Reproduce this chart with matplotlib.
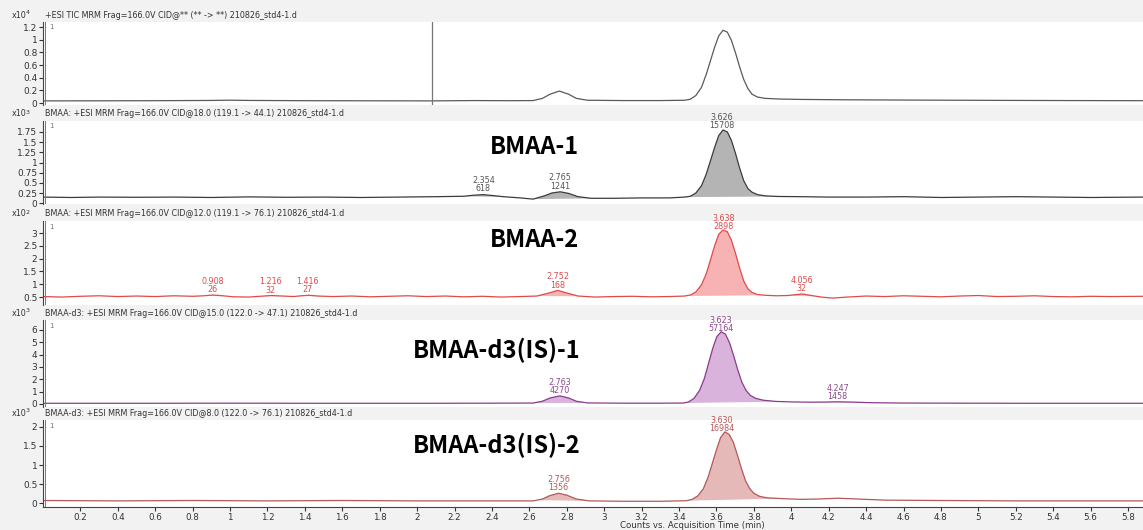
import numpy as np
import matplotlib
matplotlib.use("Agg")
import matplotlib.pyplot as plt

# ---------- DATA ----------
x_ticks = [0.2, 0.4, 0.6, 0.8, 1, 1.2, 1.4, 1.6, 1.8, 2, 2.2, 2.4, 2.6, 2.8, 3, 3.2,
           3.4, 3.6, 3.8, 4, 4.2, 4.4, 4.6, 4.8, 5, 5.2, 5.4, 5.6, 5.8]

headers = [
    "+ESI TIC MRM Frag=166.0V CID@** (** -> **) 210826_std4-1.d",
    "BMAA: +ESI MRM Frag=166.0V CID@18.0 (119.1 -> 44.1) 210826_std4-1.d",
    "BMAA: +ESI MRM Frag=166.0V CID@12.0 (119.1 -> 76.1) 210826_std4-1.d",
    "BMAA-d3: +ESI MRM Frag=166.0V CID@15.0 (122.0 -> 47.1) 210826_std4-1.d",
    "BMAA-d3: +ESI MRM Frag=166.0V CID@8.0 (122.0 -> 76.1) 210826_std4-1.d",
]
exponents = ["4", "3", "2", "3", "3"]
big_labels = ["", "BMAA-1", "BMAA-2", "BMAA-d3(IS)-1", "BMAA-d3(IS)-2"]

# (time min, counts in panel units)
tic = [(0.00, 0.035), (0.30, 0.036), (0.60, 0.038), (0.90, 0.042), (1.00, 0.046),
       (1.10, 0.042), (1.40, 0.038), (1.80, 0.036), (2.08, 0.035), (2.30, 0.040),
       (2.50, 0.038), (2.62, 0.040), (2.67, 0.075), (2.71, 0.140), (2.76, 0.190),
       (2.81, 0.140), (2.85, 0.075), (2.91, 0.045), (3.10, 0.040), (3.30, 0.040),
       (3.43, 0.045), (3.46, 0.060), (3.49, 0.120), (3.52, 0.250), (3.545, 0.450),
       (3.567, 0.660), (3.59, 0.880), (3.612, 1.060), (3.635, 1.150), (3.658, 1.120),
       (3.68, 0.990), (3.702, 0.790), (3.724, 0.570), (3.746, 0.370), (3.768, 0.230),
       (3.79, 0.140), (3.82, 0.095), (3.86, 0.075), (3.93, 0.065), (4.05, 0.058),
       (4.30, 0.052), (4.70, 0.047), (5.10, 0.043), (5.50, 0.040), (5.88, 0.038)]

bmaa1 = [(0.00, 0.15), (0.15, 0.14), (0.30, 0.15), (0.50, 0.145), (0.70, 0.15),
         (0.90, 0.14), (1.10, 0.155), (1.30, 0.145), (1.50, 0.15), (1.70, 0.14),
         (1.90, 0.15), (2.10, 0.16), (2.25, 0.17), (2.30, 0.195), (2.35, 0.21),
         (2.40, 0.19), (2.46, 0.16), (2.55, 0.13), (2.62, 0.10), (2.68, 0.18),
         (2.72, 0.25), (2.765, 0.28), (2.81, 0.24), (2.86, 0.16), (2.93, 0.12),
         (3.05, 0.12), (3.20, 0.13), (3.35, 0.13), (3.43, 0.15), (3.46, 0.17),
         (3.49, 0.25), (3.52, 0.43), (3.545, 0.71), (3.567, 1.03), (3.59, 1.37),
         (3.612, 1.66), (3.635, 1.80), (3.658, 1.75), (3.68, 1.54), (3.702, 1.22),
         (3.724, 0.86), (3.746, 0.55), (3.768, 0.36), (3.79, 0.27), (3.82, 0.21),
         (3.86, 0.18), (3.93, 0.165), (4.05, 0.16), (4.20, 0.15), (4.40, 0.15),
         (4.60, 0.16), (4.80, 0.14), (5.00, 0.15), (5.20, 0.16), (5.40, 0.15),
         (5.60, 0.14), (5.88, 0.15)]

bmaa2 = [(0.00, 0.52), (0.10, 0.50), (0.20, 0.53), (0.30, 0.55), (0.40, 0.52),
         (0.50, 0.54), (0.60, 0.52), (0.70, 0.55), (0.80, 0.53), (0.86, 0.55),
         (0.91, 0.58), (0.96, 0.55), (1.02, 0.51), (1.10, 0.50), (1.16, 0.53),
         (1.22, 0.56), (1.28, 0.54), (1.34, 0.52), (1.38, 0.55), (1.42, 0.57),
         (1.47, 0.54), (1.55, 0.52), (1.65, 0.54), (1.75, 0.51), (1.85, 0.53),
         (1.95, 0.55), (2.05, 0.52), (2.15, 0.54), (2.25, 0.51), (2.35, 0.53),
         (2.45, 0.50), (2.55, 0.52), (2.64, 0.54), (2.70, 0.65), (2.752, 0.76),
         (2.80, 0.66), (2.86, 0.54), (2.95, 0.50), (3.05, 0.52), (3.15, 0.53),
         (3.25, 0.51), (3.35, 0.52), (3.43, 0.54), (3.46, 0.58), (3.49, 0.70),
         (3.52, 0.98), (3.545, 1.40), (3.567, 1.93), (3.59, 2.50), (3.612, 2.95),
         (3.635, 3.12), (3.658, 3.05), (3.68, 2.72), (3.702, 2.20), (3.724, 1.63),
         (3.746, 1.12), (3.768, 0.82), (3.79, 0.68), (3.82, 0.60), (3.86, 0.57),
         (3.92, 0.55), (3.98, 0.56), (4.03, 0.60), (4.06, 0.62), (4.10, 0.57),
         (4.16, 0.50), (4.22, 0.46), (4.30, 0.50), (4.40, 0.54), (4.50, 0.52),
         (4.60, 0.55), (4.70, 0.53), (4.80, 0.51), (4.90, 0.54), (5.00, 0.56),
         (5.10, 0.52), (5.20, 0.53), (5.30, 0.55), (5.40, 0.52), (5.50, 0.51),
         (5.60, 0.53), (5.70, 0.52), (5.88, 0.53)]

d3_1 = [(0.00, 0.05), (0.50, 0.05), (1.00, 0.06), (1.50, 0.05), (2.00, 0.05),
        (2.40, 0.06), (2.62, 0.07), (2.67, 0.22), (2.71, 0.48), (2.763, 0.65),
        (2.81, 0.48), (2.85, 0.22), (2.91, 0.08), (3.10, 0.06), (3.30, 0.06),
        (3.42, 0.07), (3.45, 0.15), (3.48, 0.45), (3.51, 1.10), (3.535, 2.05),
        (3.557, 3.25), (3.58, 4.50), (3.602, 5.45), (3.625, 5.85), (3.648, 5.65),
        (3.67, 4.95), (3.692, 3.90), (3.714, 2.75), (3.736, 1.75), (3.758, 1.10),
        (3.78, 0.70), (3.81, 0.45), (3.85, 0.30), (3.92, 0.20), (4.00, 0.16),
        (4.10, 0.14), (4.18, 0.15), (4.247, 0.17), (4.32, 0.15), (4.42, 0.10),
        (4.60, 0.07), (4.90, 0.06), (5.30, 0.05), (5.88, 0.05)]

d3_2 = [(0.00, 0.07), (0.40, 0.06), (0.80, 0.07), (1.20, 0.06), (1.60, 0.07),
        (2.00, 0.06), (2.40, 0.06), (2.62, 0.06), (2.67, 0.11), (2.71, 0.20),
        (2.756, 0.26), (2.80, 0.21), (2.85, 0.11), (2.92, 0.06), (3.10, 0.05),
        (3.30, 0.05), (3.44, 0.065), (3.47, 0.10), (3.50, 0.19), (3.53, 0.38),
        (3.555, 0.68), (3.577, 1.03), (3.60, 1.40), (3.622, 1.72), (3.645, 1.87),
        (3.668, 1.80), (3.69, 1.60), (3.712, 1.26), (3.734, 0.90), (3.756, 0.58),
        (3.778, 0.38), (3.80, 0.26), (3.83, 0.18), (3.87, 0.14), (3.95, 0.12),
        (4.05, 0.10), (4.15, 0.11), (4.25, 0.13), (4.35, 0.11), (4.50, 0.08),
        (4.80, 0.07), (5.20, 0.06), (5.88, 0.06)]

traces = [tic, bmaa1, bmaa2, d3_1, d3_2]

# integrated peak windows (start, end)
fills = [
    [],
    [(2.24, 2.48), (2.62, 2.95), (3.43, 3.95)],
    [(0.86, 0.98), (1.16, 1.30), (1.36, 1.50), (2.64, 2.88), (3.43, 3.86), (3.98, 4.14)],
    [(2.62, 2.92), (3.42, 3.95), (4.10, 4.42)],
    [(2.64, 2.94), (3.44, 3.95)],
]

# peak labels: (rt, label y, "rt\narea")
peak_labels = [
    [],
    [(2.354, 0.24, "2.354\n618"), (2.765, 0.31, "2.765\n1241"), (3.626, 1.80, "3.626\n15708")],
    [(0.908, 0.60, "0.908\n26"), (1.216, 0.59, "1.216\n32"), (1.416, 0.60, "1.416\n27"),
     (2.752, 0.79, "2.752\n168"), (3.638, 3.08, "3.638\n2898"), (4.056, 0.65, "4.056\n32")],
    [(2.763, 0.70, "2.763\n4270"), (3.623, 5.75, "3.623\n57164"), (4.247, 0.20, "4.247\n1458")],
    [(2.756, 0.28, "2.756\n1356"), (3.630, 1.84, "3.630\n16984")],
]

y_ticks = [
    [0, 0.2, 0.4, 0.6, 0.8, 1, 1.2],
    [0, 0.25, 0.5, 0.75, 1, 1.25, 1.5, 1.75],
    [0.5, 1, 1.5, 2, 2.5, 3],
    [0, 1, 2, 3, 4, 5, 6],
    [0, 0.5, 1, 1.5, 2],
]
y_lims = [(-0.03, 1.28), (-0.02, 2.02), (0.19, 3.47), (-0.25, 6.8), (-0.1, 2.18)]

line_colors = ["#5a5a5a", "#3c3c3c", "#e04a4a", "#8a3c8a", "#b45858"]
fill_colors = ["#ffffff", "#b4b4b4", "#f7b3b3", "#d9b3dc", "#e6b9b9"]
label_colors = ["#555555", "#555555", "#e04a4a", "#8a4a8a", "#b45858"]

# ---------- LAYOUT (pixel boxes) ----------
W, H = 1143, 530
boxes = [(22, 105), (121, 204), (221, 305), (320, 407), (420, 507)]
big_pos = [None, (534, 147), (534, 240), (497, 350), (497, 445)]
ax_left, ax_right = 43, 1143

fig = plt.figure(figsize=(W / 100, H / 100), dpi=100, facecolor="#f2f2f2")

for i, (top, bot) in enumerate(boxes):
    ax = fig.add_axes([ax_left / W, 1 - bot / H, (ax_right - ax_left) / W, (bot - top) / H])
    ax.set_facecolor("white")
    data = np.array(traces[i])
    t, y = data[:, 0], data[:, 1]

    for (s, e) in fills[i]:
        m = (t >= s) & (t <= e)
        ts = np.concatenate([[s], t[m], [e]])
        ys = np.concatenate([[np.interp(s, t, y)], y[m], [np.interp(e, t, y)]])
        ax.fill(ts, ys, color=fill_colors[i], lw=0)
    ax.plot(t, y, color=line_colors[i], lw=0.9)

    for (rt, ly, txt) in peak_labels[i]:
        ax.text(rt, ly, txt, ha="center", va="bottom", fontsize=5.8,
                color=label_colors[i], linespacing=0.9)

    if i == 0:
        ax.axvline(2.08, color="#777777", lw=0.9)

    ax.set_xlim(0, 5.88)
    ax.set_ylim(*y_lims[i])
    ax.set_yticks(y_ticks[i])
    ax.set_yticklabels(["{:g}".format(v) for v in y_ticks[i]])
    ax.tick_params(axis="y", labelsize=6.5, length=3, width=0.8, pad=1,
                   colors="#333333")
    for sp in ["top", "right"]:
        ax.spines[sp].set_visible(False)
    ax.spines["left"].set_color("#444444")
    ax.axvline(0.012, color="#777777", lw=0.7)
    ax.text(0.006, 0.97, "1", transform=ax.transAxes, fontsize=5,
            color="#777777", va="top")

    if i < 4:
        ax.spines["bottom"].set_visible(False)
        ax.set_xticks([])
    else:
        ax.spines["bottom"].set_color("#444444")
        ax.set_xticks(x_ticks)
        ax.set_xticklabels(["{:g}".format(v) for v in x_ticks])
        ax.tick_params(axis="x", labelsize=6.3, length=3, width=0.8, pad=1,
                       colors="#333333")

    # header line above each panel
    fig.text(12 / W, 1 - (top - 7) / H, "x10", fontsize=5.8, color="#333333", va="center")
    fig.text(26 / W, 1 - (top - 9) / H, exponents[i], fontsize=4.5, color="#333333", va="center")
    fig.text(45 / W, 1 - (top - 7) / H, headers[i], fontsize=5.8, color="#333333", va="center")

    if big_labels[i]:
        bx, by = big_pos[i]
        fig.text(bx / W, 1 - by / H, big_labels[i], fontsize=17, fontweight="bold",
                 family=["Noto Sans CJK KR", "DejaVu Sans"], ha="center", va="center",
                 color="black")

fig.text(692 / W, 1 - 525 / H, "Counts vs. Acquisition Time (min)", fontsize=6.2,
         color="#333333", ha="center", va="center")

fig.savefig("out.png", dpi=100, facecolor=fig.get_facecolor())
